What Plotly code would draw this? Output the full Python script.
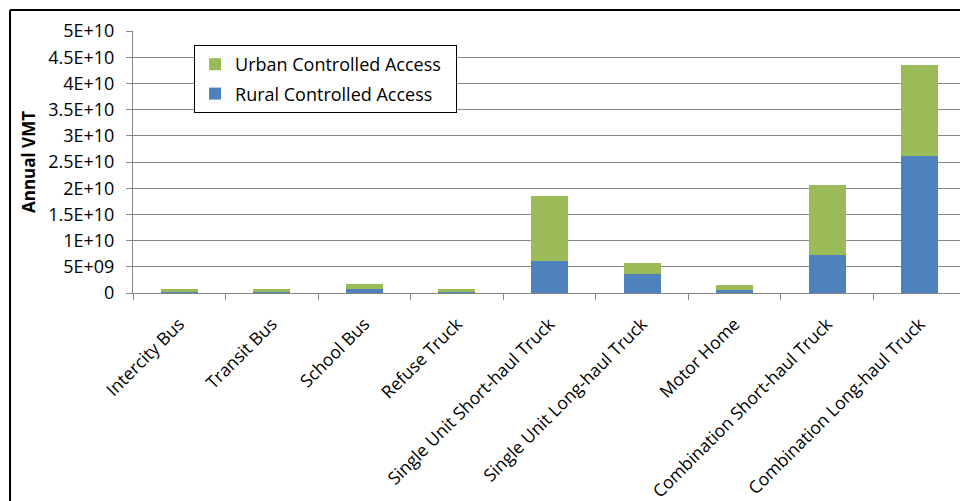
import plotly.graph_objects as go

## vehicle categories and annual VMT by road type
categories = ["Intercity Bus", "Transit Bus", "School Bus", "Refuse Truck",
              "Single Unit Short-haul Truck", "Single Unit Long-haul Truck",
              "Motor Home", "Combination Short-haul Truck", "Combination Long-haul Truck"]
rural = [0.25e9, 0.25e9, 0.7e9, 0.25e9, 6.05e9, 3.57e9, 0.5e9, 7.25e9, 26.2e9]
urban = [0.55e9, 0.55e9, 1.0e9, 0.55e9, 12.5e9, 2.2e9, 0.95e9, 13.45e9, 17.4e9]

ytick_vals = [0, 5e9, 1e10, 1.5e10, 2e10, 2.5e10, 3e10, 3.5e10, 4e10, 4.5e10, 5e10]
ytick_text = ["0", "5E+09", "1E+10", "1.5E+10", "2E+10", "2.5E+10", "3E+10",
              "3.5E+10", "4E+10", "4.5E+10", "5E+10"]

font = "Open Sans"
pad = "\u00a0\u00a0"

fig = go.Figure()
fig.add_trace(go.Bar(x=categories, y=rural, name="Rural Controlled Access" + pad, legendgroup="r",
                     legendrank=2, marker=dict(color="#4F81BD", line=dict(width=0))))
fig.add_trace(go.Bar(x=categories, y=urban, name="Urban Controlled Access" + pad, legendgroup="u",
                     legendrank=1, marker=dict(color="#9BBB59", line=dict(width=0))))

fig.update_xaxes(range=[-0.5, 8.435], tickangle=-45, ticks="outside", tickson="boundaries",
                 ticklen=6, tickcolor="#868686", showline=True, linecolor="#868686", linewidth=1,
                 showgrid=False, ticklabelstandoff=13, automargin=False,
                 tickfont=dict(family=font, size=17.5, color="black"))
fig.update_yaxes(range=[0, 5e10], tickvals=ytick_vals, ticktext=ytick_text,
                 ticks="outside", ticklen=6, tickcolor="#868686", showline=True,
                 linecolor="#868686", linewidth=1, gridcolor="#868686", gridwidth=1,
                 zeroline=False, ticklabelstandoff=8, automargin=False,
                 tickfont=dict(family=font, size=18, color="black"),
                 title=dict(text="<b>Annual VMT</b>", font=dict(family=font, size=17, color="black"),
                            standoff=8))

## black frame round the chart, only its left and top edges show
fig.add_shape(type="line", xref="paper", yref="paper", x0=-0.1487, x1=-0.1487, y0=-2, y1=1.080,
              line=dict(color="black", width=2), layer="above")
fig.add_shape(type="line", xref="paper", yref="paper", x0=-0.1487, x1=1.5, y0=1.080, y1=1.080,
              line=dict(color="black", width=2), layer="above")

fig.update_layout(barmode="stack", bargap=0.6, width=960, height=501,
                  margin=dict(l=133, r=0, t=31, b=208),
                  plot_bgcolor="white", paper_bgcolor="white",
                  legend=dict(x=0.0738, y=0.9466, xanchor="left", yanchor="top",
                              traceorder="grouped", bordercolor="black", borderwidth=1,
                              bgcolor="white", font=dict(family=font, size=18, color="black"),
                              itemwidth=30, tracegroupgap=3),
                  showlegend=True)

## drop the browser's default body margin so the figure fills the window exactly
fig.write_html("out.html", config={"displayModeBar": False},
               post_script="document.body.style.margin='0';")
